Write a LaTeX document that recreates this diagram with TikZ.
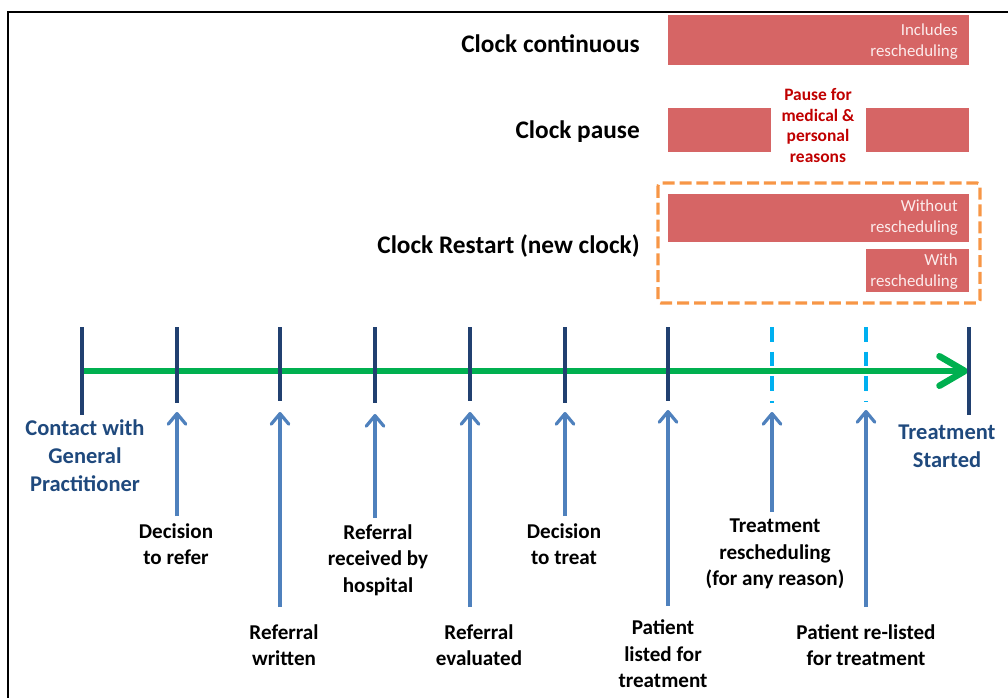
\documentclass[tikz,border=0pt]{standalone}
\usepackage{fontspec}
\setmainfont{Carlito}
\usetikzlibrary{arrows.meta,positioning}

\definecolor{axisgreen}{RGB}{0,176,80}
\definecolor{ticknavy}{RGB}{33,64,112}
\definecolor{tickcyan}{RGB}{0,176,240}
\definecolor{arrowblue}{RGB}{79,129,189}
\definecolor{labelblue}{RGB}{31,73,125}
\definecolor{barred}{RGB}{214,101,101}
\definecolor{bartext}{RGB}{252,236,236}
\definecolor{pausered}{RGB}{192,0,0}
\definecolor{restartorange}{RGB}{247,150,70}

\begin{document}
\begin{tikzpicture}[x=0.025cm, y=-0.025cm,
      axis/.style={-{Straight Barb[length=18pt, width=21pt, round]}, line width=4.6pt, axisgreen},
      tickline/.style={line width=2.6pt, ticknavy},
      tickdash/.style={line width=2.3pt, tickcyan, dash pattern=on 10.5pt off 7pt},
      uparrow/.style={-{Straight Barb[length=7.5pt, width=12.5pt, round]}, line width=2.3pt, arrowblue},
      bar/.style={fill=barred},
      lab/.style={font=\bfseries\fontsize{15}{18.8}\selectfont, align=center, inner sep=0pt},
      endlab/.style={font=\bfseries\fontsize{16}{19.8}\selectfont, align=center, inner sep=0pt, labelblue},
      clocklab/.style={font=\bfseries\fontsize{18}{22}\selectfont, anchor=east, inner sep=0pt},
      bartxt/.style={font=\fontsize{12}{14.9}\selectfont, align=right, anchor=east, inner sep=0pt, bartext}
    ]
    \useasboundingbox (0,0) rectangle (1008,698);
    % frame (cut at right and bottom)
    \draw[line width=1.4pt] (8,698) -- (8,12) -- (1008,12);

    % clock rows
    \node[clocklab] (cont) at (640,44) {Clock continuous};
    \node[clocklab] (pause) at (640,132) {Clock pause};
    \node[clocklab] (restart) at (640,246) {Clock Restart (new clock)};

    \fill[bar] (668,15) rectangle (969,65);
    \node[bartxt] (incl) at (958,41.5) {Includes\\rescheduling};

    \fill[bar] (668,108) rectangle (771,152);
    \fill[bar] (866,108) rectangle (969,152);
    \node[font=\bfseries\fontsize{12.4}{14.9}\selectfont, align=center, inner sep=0pt, pausered]
      (why) at (818,125.5) {Pause for\\medical \&\\personal\\reasons};

    \draw[restartorange, line width=2.2pt, dash pattern=on 8.5pt off 3.5pt, rounded corners=2pt]
      (658,183) rectangle (980,303);
    \fill[bar] (668,194) rectangle (969,242);
    \node[bartxt] (without) at (958,218) {Without\\rescheduling};
    \fill[bar] (866,249) rectangle (969,292);
    \node[bartxt] (with) at (958,271.5) {With\\rescheduling};

    % timeline
    \coordinate (o) at (82,371);
    \coordinate (e) at (968,371);
    \draw[axis] (o) -- (e);

    % ticks
    \draw[tickline] (82,327) -- (82,415);
    \draw[tickline] (177,327) -- (177,403);
    \draw[tickline] (280,327) -- (280,401);
    \draw[tickline] (375,327) -- (375,403);
    \draw[tickline] (470,327) -- (470,401);
    \draw[tickline] (565,327) -- (565,403);
    \draw[tickline] (668,327) -- (668,401);
    \draw[tickdash] (772,327) -- (772,403);
    \draw[tickdash] (866,327) -- (866,401);
    \draw[tickline] (969,327) -- (969,415);

    % end labels
    \node[endlab] (gp) at (85,456) {Contact with\\General\\Practitioner};
    \node[endlab] (started) at (947,446) {Treatment\\Started};

    % events
    \node[lab] (refer) at (176,544) {Decision\\to refer};
    \node[lab] (written) at (284,645) {Referral\\written};
    \node[lab] (received) at (378,560) {Referral\\received by\\hospital};
    \node[lab] (evaluated) at (479,645) {Referral\\evaluated};
    \node[lab] (treat) at (564,544) {Decision\\to treat};
    \node[lab] (listed) at (663,654) {Patient\\listed for\\treatment};
    \node[lab] (resched) at (775,554) {Treatment\\rescheduling\\(for any reason)};
    \node[lab] (relisted) at (866,645) {Patient re-listed\\for treatment};

    \coordinate (h1) at (177,412);
    \coordinate (h2) at (280,412);
    \coordinate (h3) at (375,414);
    \coordinate (h4) at (470,412);
    \coordinate (h5) at (565,412);
    \coordinate (h6) at (668,410);
    \coordinate (h7) at (772,412);
    \coordinate (h8) at (866,410);
    \draw[uparrow] (refer.north -| h1) ++(0,-7) -- (h1);
    \draw[uparrow] (written.north -| h2) ++(0,-17) -- (h2);
    \draw[uparrow] (received.north -| h3) ++(0,-6) -- (h3);
    \draw[uparrow] (evaluated.north -| h4) ++(0,-17) -- (h4);
    \draw[uparrow] (treat.north -| h5) ++(0,-7) -- (h5);
    \draw[uparrow] (listed.north -| h6) ++(0,-14) -- (h6);
    \draw[uparrow] (resched.north -| h7) ++(0,-7) -- (h7);
    \draw[uparrow] (relisted.north -| h8) ++(0,-17) -- (h8);
  \end{tikzpicture}
\end{document}
